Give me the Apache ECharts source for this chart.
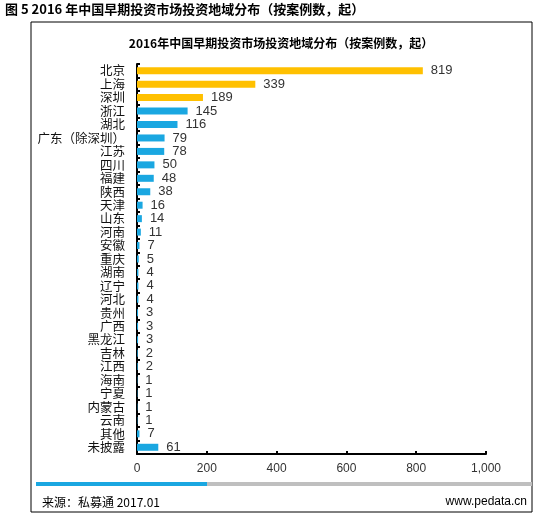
<!DOCTYPE html>
<html>
<head>
<meta charset="utf-8">
<script src="https://cdn.jsdelivr.net/npm/echarts@6/dist/echarts.min.js"></script>
<style>
  html, body { margin: 0; padding: 0; background: #fff; }
  #main { width: 537px; height: 515px; }
</style>
</head>
<body>
<div id="main"></div>
<script>
var regions = ['北京', '上海', '深圳', '浙江', '湖北', '广东（除深圳）', '江苏', '四川', '福建', '陕西',
  '天津', '山东', '河南', '安徽', '重庆', '湖南', '辽宁', '河北', '贵州', '广西',
  '黑龙江', '吉林', '江西', '海南', '宁夏', '内蒙古', '云南', '其他', '未披露']
var dealCounts = [819, 339, 189, 145, 116, 79, 78, 50, 48, 38,
  16, 14, 11, 7, 5, 4, 4, 4, 3, 3,
  3, 2, 2, 1, 1, 1, 1, 7, 61]
var xTicks = [0, 200, 400, 600, 800, 1000]

var cnFont = '"Noto Sans CJK SC", sans-serif'
var numFont = '"Liberation Sans", Arial, sans-serif'

var chart = echarts.init(document.getElementById('main'))
chart.setOption({
  animation: false,
  backgroundColor: '#fff',
  grid: { left: 137, right: 51, top: 64, bottom: 61 },
  xAxis: {
    type: 'value',
    min: xTicks[0],
    max: xTicks[xTicks.length - 1],
    interval: xTicks[1] - xTicks[0],
    splitLine: { show: false },
    axisLine: { show: true, lineStyle: { color: '#000', width: 2 } },
    axisTick: { show: true, inside: true, length: 3, lineStyle: { color: '#000', width: 2 } },
    axisLabel: {
      color: '#333', fontFamily: numFont, fontSize: 12, margin: 9,
      formatter: function (v) { return v.toLocaleString('en-US') }
    }
  },
  yAxis: {
    type: 'category',
    data: regions,
    inverse: true,
    axisLine: { show: true, lineStyle: { color: '#000', width: 2 } },
    axisTick: { show: true, inside: true, length: 3, lineStyle: { color: '#000', width: 2 } },
    axisLabel: { color: '#111', fontFamily: cnFont, fontSize: 12.5, margin: 12, interval: 0 }
  },
  series: [{
    type: 'bar',
    data: dealCounts,
    barWidth: 7,
    itemStyle: {
      color: function (p) { return p.dataIndex < 3 ? '#FFC000' : '#1AA7E1' }
    },
    label: {
      show: true, position: 'right', distance: 8,
      color: '#333', fontFamily: numFont, fontSize: 13
    }
  }],
  graphic: [
    {
      type: 'text', left: 5, top: 3,
      style: { text: '图 5 2016 年中国早期投资市场投资地域分布（按案例数，起）', font: 'bold 13px ' + cnFont, fill: '#000' }
    },
    {
      type: 'rect', shape: { x: 31, y: 22, width: 501, height: 490 },
      style: { fill: 'none', stroke: '#000', lineWidth: 1 }
    },
    {
      type: 'text', x: 281, y: 43,
      style: { text: '2016年中国早期投资市场投资地域分布（按案例数，起）', font: 'bold 12px ' + cnFont, fill: '#000', align: 'center', verticalAlign: 'middle' }
    },
    {
      type: 'rect', shape: { x: 36, y: 482, width: 171, height: 4 },
      style: { fill: '#1AA7E1' }
    },
    {
      type: 'rect', shape: { x: 207, y: 482, width: 325, height: 4 },
      style: { fill: '#BFBFBF' }
    },
    {
      type: 'text', x: 42, y: 502,
      style: { text: '来源：私募通 2017.01', font: '12px ' + cnFont, fill: '#000', verticalAlign: 'middle' }
    },
    {
      type: 'text', x: 527, y: 502,
      style: { text: 'www.pedata.cn', font: '12px ' + numFont, fill: '#000', align: 'right', verticalAlign: 'middle' }
    }
  ]
})
</script>
</body>
</html>
